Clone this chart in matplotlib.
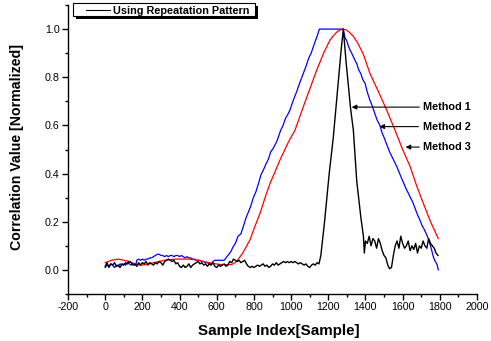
import matplotlib
matplotlib.use("Agg")
import matplotlib.pyplot as plt
from matplotlib.ticker import MultipleLocator
from matplotlib.patches import Rectangle
from matplotlib.lines import Line2D

plt.rcParams['font.family'] = ['Liberation Sans', 'DejaVu Sans']
plt.rcParams['axes.unicode_minus'] = False

# Method 1 (black): Using Repeatation Pattern
m1_x = [0, 10, 20, 30, 40, 50, 60, 70, 80, 90,
        100, 110, 120, 130, 140, 150, 160, 170, 180, 190,
        200, 210, 220, 230, 240, 250, 260, 270, 280, 290,
        300, 310, 320, 330, 340, 350, 360, 370, 380, 390,
        400, 410, 420, 430, 440, 450, 460, 470, 480, 490,
        500, 510, 520, 530, 540, 550, 560, 570, 580, 590,
        600, 610, 620, 630, 640, 650, 660, 670, 680, 690,
        700, 710, 720, 730, 740, 750, 760, 770, 780, 790,
        800, 810, 820, 830, 840, 850, 860, 870, 880, 890,
        900, 910, 920, 930, 940, 950, 960, 970, 980, 990,
        1000, 1010, 1020, 1030, 1040, 1050, 1060, 1070, 1080, 1090,
        1100, 1110, 1120, 1130, 1140, 1150,
        1160, 1180, 1205, 1227, 1250, 1270, 1281, 1295, 1320, 1335,
        1353, 1375, 1389, 1394, 1400,
        1410, 1420, 1430, 1440, 1450, 1460, 1470, 1480, 1490, 1500,
        1510, 1520, 1530, 1540, 1550, 1560, 1570, 1580, 1590, 1600,
        1610, 1620, 1630, 1640, 1650, 1660, 1670, 1680, 1690, 1700,
        1710, 1720, 1730, 1740, 1750, 1760, 1770, 1780, 1790]
m1_y = [0.015, 0.03, 0.01, 0.025, 0.02, 0.03, 0.015, 0.02, 0.01, 0.025,
        0.02, 0.03, 0.025, 0.035, 0.03, 0.02, 0.025, 0.015, 0.03, 0.02,
        0.03, 0.025, 0.035, 0.02, 0.03, 0.025, 0.02, 0.03, 0.025, 0.035,
        0.03, 0.02, 0.035, 0.04, 0.045, 0.04, 0.035, 0.04, 0.025, 0.03,
        0.015, 0.01, 0.02, 0.01, 0.015, 0.025, 0.01, 0.02, 0.025, 0.03,
        0.035, 0.025, 0.03, 0.02, 0.025, 0.015, 0.025, 0.02, 0.03, 0.015,
        0.01, 0.02, 0.015, 0.02, 0.025, 0.015, 0.02, 0.035, 0.03, 0.045,
        0.04, 0.035, 0.04, 0.03, 0.035, 0.04, 0.025, 0.015, 0.01, 0.015,
        0.01, 0.015, 0.02, 0.015, 0.02, 0.025, 0.015, 0.02, 0.01, 0.015,
        0.025, 0.02, 0.03, 0.02, 0.025, 0.03, 0.035, 0.03, 0.035, 0.03,
        0.035, 0.03, 0.035, 0.03, 0.025, 0.03, 0.025, 0.02, 0.025, 0.015,
        0.01, 0.02, 0.025, 0.02, 0.03, 0.025,
        0.06, 0.20, 0.40, 0.55, 0.75, 0.92, 1.0, 0.87, 0.67, 0.58,
        0.37, 0.22, 0.14, 0.07, 0.12,
        0.11, 0.14, 0.10, 0.13, 0.12, 0.09, 0.13, 0.11, 0.08, 0.06,
        0.05, 0.02, 0.005, 0.01, 0.06, 0.10, 0.12, 0.09, 0.14, 0.11,
        0.09, 0.10, 0.12, 0.08, 0.10, 0.085, 0.11, 0.07, 0.10, 0.09,
        0.12, 0.10, 0.09, 0.13, 0.11, 0.10, 0.09, 0.07, 0.06]

# Method 2 (blue)
m2_x = [0, 10, 20, 30, 40, 50, 60, 70, 80, 90,
        100, 110, 120, 130, 140, 150, 160, 165, 170, 180, 190,
        200, 210, 220, 230, 240, 250, 260, 270, 280, 290,
        300, 310, 320, 330, 340, 350, 360, 370, 380, 390,
        400, 410, 420, 430, 440, 450, 460, 470, 480, 490,
        500, 510, 520, 530, 540, 550, 560, 570, 580, 590,
        600, 610, 620, 630, 640, 660, 675, 689, 700, 715, 730, 743, 757, 770,
        783, 797, 811, 825, 838, 851, 865, 878, 890, 904, 924, 944, 957, 970, 982, 994,
        1012, 1030, 1048, 1066, 1080, 1095, 1108, 1120, 1130, 1140, 1152,
        1280, 1290, 1300, 1308, 1317, 1326, 1335, 1344, 1353, 1364, 1375,
        1386, 1398, 1411, 1424, 1437, 1450, 1464, 1478, 1489, 1500, 1515, 1530,
        1549, 1568, 1584, 1600, 1620, 1640, 1655, 1670, 1682,
        1693, 1704, 1715, 1727, 1738, 1750, 1758, 1765, 1772, 1780, 1786, 1792]
m2_y = [0.01, 0.02, 0.015, 0.025, 0.02, 0.01, 0.02, 0.015, 0.025, 0.02,
        0.025, 0.02, 0.03, 0.025, 0.02, 0.025, 0.02, 0.02, 0.04, 0.045, 0.04,
        0.045, 0.04, 0.045, 0.045, 0.05, 0.05, 0.055, 0.06, 0.065, 0.065,
        0.06, 0.06, 0.055, 0.06, 0.055, 0.06, 0.06, 0.055, 0.06, 0.06,
        0.055, 0.06, 0.055, 0.05, 0.055, 0.05, 0.05, 0.045, 0.045, 0.04,
        0.04, 0.04, 0.035, 0.035, 0.03, 0.03, 0.025, 0.025, 0.035, 0.04,
        0.04, 0.04, 0.04, 0.04, 0.04, 0.06, 0.075, 0.097, 0.11, 0.14, 0.15, 0.18, 0.215, 0.24,
        0.265, 0.30, 0.325, 0.36, 0.395, 0.415, 0.44, 0.46, 0.49, 0.505, 0.535, 0.58, 0.60, 0.63, 0.645, 0.664,
        0.705, 0.74, 0.78, 0.816, 0.845, 0.88, 0.90, 0.927, 0.95, 0.97, 1.0,
        1.0, 0.965, 0.95, 0.93, 0.913, 0.90, 0.885, 0.87, 0.857, 0.83, 0.815,
        0.79, 0.775, 0.735, 0.705, 0.68, 0.65, 0.62, 0.60, 0.57, 0.55, 0.52, 0.49,
        0.46, 0.43, 0.40, 0.37, 0.335, 0.304, 0.28, 0.25, 0.225,
        0.207, 0.185, 0.17, 0.15, 0.13, 0.10, 0.075, 0.055, 0.04, 0.03, 0.02, 0.0]

# Method 3 (red)
m3_x = [0, 35, 70, 100, 130, 160, 190, 220, 260, 320,
        380, 450, 500, 560, 620, 680, 707, 740, 779, 805,
        833, 860, 887, 915, 940, 985, 1021, 1066, 1100, 1138,
        1175, 1209, 1228, 1245, 1263, 1281, 1297, 1312, 1335, 1360,
        1389, 1424, 1470, 1514, 1559, 1600, 1640, 1675, 1711, 1750, 1792]
m3_y = [0.03, 0.04, 0.045, 0.04, 0.035, 0.025, 0.02, 0.022, 0.03, 0.04,
        0.045, 0.045, 0.04, 0.03, 0.022, 0.022, 0.035, 0.07, 0.125, 0.18,
        0.235, 0.30, 0.36, 0.41, 0.456, 0.53, 0.58, 0.678, 0.75, 0.83,
        0.90, 0.954, 0.973, 0.987, 0.996, 1.0, 0.996, 0.988, 0.97, 0.94,
        0.895, 0.816, 0.74, 0.664, 0.58, 0.50, 0.43, 0.35, 0.277, 0.20, 0.13]

legend_label = "Using Repeatation Pattern"
annot_labels = ["Method 1", "Method 2", "Method 3"]
annot_xy = [(1326, 0.676), (1475, 0.595), (1616, 0.510)]
annot_text = [(1712, 0.676), (1707, 0.595), (1712, 0.510)]

W, H = 491, 341
fig = plt.figure(figsize=(W / 100, H / 100), dpi=100)
ax = fig.add_axes([68 / W, 1 - 294 / H, (477 - 68) / W, (294 - 5) / H])

ax.plot(m2_x, m2_y, color='blue', lw=0.9)
ax.plot(m3_x, m3_y, color='red', lw=0.9)
ax.plot(m1_x, m1_y, color='black', lw=1.0)

ax.set_xlim(-200, 2000)
ax.set_ylim(-0.1, 1.1)
ax.xaxis.set_major_locator(MultipleLocator(200))
ax.xaxis.set_minor_locator(MultipleLocator(100))
ax.yaxis.set_minor_locator(MultipleLocator(0.1))
ax.set_yticks([0.0, 0.2, 0.4, 0.6, 0.8, 1.0])
ax.set_yticklabels(['0.0', '0.2', '0.4', '0.6', '0.8', '1.0'])
ax.tick_params(which='major', direction='out', length=4, width=1, labelsize=7.7, pad=2)
ax.tick_params(which='minor', direction='out', length=2.5, width=1)
for s in ['top', 'right']:
    ax.spines[s].set_visible(False)
for s in ['left', 'bottom']:
    ax.spines[s].set_linewidth(1.0)

ax.set_xlabel("Sample Index[Sample]", fontsize=10.9, fontweight='bold', va='center')
ax.xaxis.set_label_coords((279 - 68) / 409, (294 - 331.5) / 289)
ax.set_ylabel("Correlation Value [Normalized]", fontsize=10.2, fontweight='bold', va='center')
ax.yaxis.set_label_coords((16.7 - 68) / 409, (294 - 147.5) / 289)

for lab, xy, xt in zip(annot_labels, annot_xy, annot_text):
    ax.annotate(lab, xy=xy, xytext=xt, textcoords='data', ha='left', va='center',
                fontsize=7.8, fontweight='bold',
                arrowprops=dict(arrowstyle='-|>', color='black', lw=0.8,
                                shrinkA=1, shrinkB=0, mutation_scale=7))

# Legend box with solid black shadow (figure pixel layout)
bx0, bx1, by0, by1 = 73, 255, 3.3, 15.7
fig.patches.append(Rectangle((bx0 / W + 3 / W, 1 - (by1 + 3) / H), (bx1 - bx0) / W, (by1 - by0) / H,
                             transform=fig.transFigure, facecolor='black', edgecolor='black',
                             lw=0, zorder=5))
fig.patches.append(Rectangle((bx0 / W, 1 - by1 / H), (bx1 - bx0) / W, (by1 - by0) / H,
                             transform=fig.transFigure, facecolor='white', edgecolor='black',
                             lw=0.8, zorder=6))
ymid = 1 - 9.5 / H
fig.lines.append(Line2D([86 / W, 110 / W], [ymid, ymid], transform=fig.transFigure,
                        color='black', lw=0.8, zorder=7))
fig.text(113 / W, 1 - 10.8 / H, legend_label, fontsize=7.8, fontweight='bold',
         ha='left', va='center', zorder=7)

fig.savefig("out.png", dpi=100)
